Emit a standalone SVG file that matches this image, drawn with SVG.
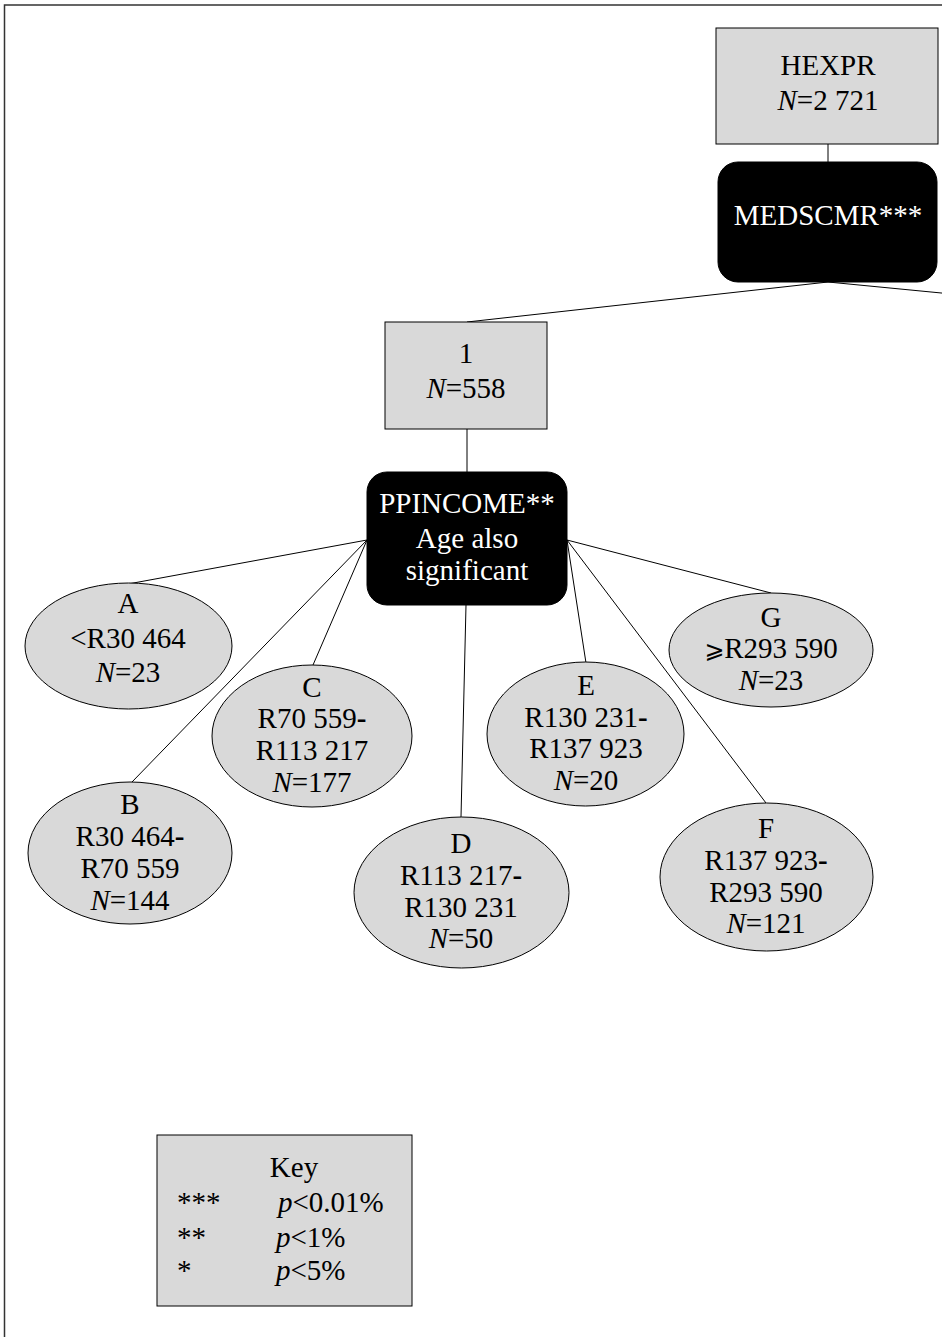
<svg xmlns="http://www.w3.org/2000/svg" width="942" height="1337" viewBox="0 0 942 1337">
<style>
text{font-family:"Liberation Serif","Times New Roman",serif;font-size:29px;text-anchor:middle;fill:#000}
.w{fill:#fff}
.i{font-style:italic}
.b{font-weight:bold}
.box{fill:#d9d9d9;stroke:#000;stroke-width:1}
.dark{fill:#000;stroke:#000}
.ell{fill:#d9d9d9;stroke:#000;stroke-width:1}
.c{stroke:#000;stroke-width:1;fill:none}
.l{text-anchor:start}
</style>
<rect width="942" height="1337" fill="#fff"/>
<path d="M4.5 1337 V5 H942" fill="none" stroke="#333" stroke-width="1.5"/>
<g id="connectors">
<line class="c" x1="828" y1="144" x2="828" y2="162"/>
<line class="c" x1="828" y1="282" x2="467" y2="322"/>
<line class="c" x1="828" y1="282" x2="962" y2="295"/>
<line class="c" x1="467" y1="429" x2="467" y2="472"/>
<line class="c" x1="367" y1="540" x2="128" y2="584"/>
<line class="c" x1="367" y1="540" x2="132" y2="782"/>
<line class="c" x1="367" y1="540" x2="313" y2="665"/>
<line class="c" x1="466" y1="605" x2="461" y2="817"/>
<line class="c" x1="567" y1="540" x2="586" y2="663"/>
<line class="c" x1="567" y1="540" x2="766" y2="803"/>
<line class="c" x1="567" y1="540" x2="771" y2="593"/>
</g>
<g id="hexpr">
<rect class="box" x="716" y="28" width="222" height="116"/>
<text x="828" y="75">HEXPR</text>
<text x="828" y="110"><tspan class="i">N</tspan>=2 721</text>
</g>
<g id="medscmr">
<rect class="dark" x="718" y="162" width="219" height="120" rx="20"/>
<text class="w" x="828" y="225">MEDSCMR***</text>
</g>
<g id="n1">
<rect class="box" x="385" y="322" width="162" height="107"/>
<text x="466" y="363">1</text>
<text x="466" y="398"><tspan class="i">N</tspan>=558</text>
</g>
<g id="ppincome">
<rect class="dark" x="367" y="472" width="200" height="133" rx="20"/>
<text class="w" x="467" y="513">PPINCOME**</text>
<text class="w" x="467" y="548">Age also</text>
<text class="w" x="467" y="580">significant</text>
</g>
<g id="nA">
<ellipse class="ell" cx="128.5" cy="646" rx="103.5" ry="63"/>
<text x="128" y="613">A</text>
<text x="128" y="648">&lt;R30 464</text>
<text x="128" y="682"><tspan class="i">N</tspan>=23</text>
</g>
<g id="nB">
<ellipse class="ell" cx="130" cy="853" rx="102" ry="71"/>
<text x="130" y="814">B</text>
<text x="130" y="846">R30 464<tspan class="b">-</tspan></text>
<text x="130" y="878">R70 559</text>
<text x="130" y="910"><tspan class="i">N</tspan>=144</text>
</g>
<g id="nC">
<ellipse class="ell" cx="312" cy="736" rx="100" ry="71"/>
<text x="312" y="697">C</text>
<text x="312" y="728">R70 559<tspan class="b">-</tspan></text>
<text x="312" y="760">R113 217</text>
<text x="312" y="792"><tspan class="i">N</tspan>=177</text>
</g>
<g id="nD">
<ellipse class="ell" cx="461.5" cy="892.5" rx="107.5" ry="75.5"/>
<text x="461" y="853">D</text>
<text x="461" y="885">R113 217<tspan class="b">-</tspan></text>
<text x="461" y="917">R130 231</text>
<text x="461" y="948"><tspan class="i">N</tspan>=50</text>
</g>
<g id="nE">
<ellipse class="ell" cx="585.5" cy="734" rx="98.5" ry="72"/>
<text x="586" y="695">E</text>
<text x="586" y="727">R130 231<tspan class="b">-</tspan></text>
<text x="586" y="758">R137 923</text>
<text x="586" y="790"><tspan class="i">N</tspan>=20</text>
</g>
<g id="nF">
<ellipse class="ell" cx="766.5" cy="877" rx="106.5" ry="74"/>
<text x="766" y="838">F</text>
<text x="766" y="870">R137 923<tspan class="b">-</tspan></text>
<text x="766" y="902">R293 590</text>
<text x="766" y="933"><tspan class="i">N</tspan>=121</text>
</g>
<g id="nG">
<ellipse class="ell" cx="771" cy="650" rx="102" ry="57"/>
<text x="771" y="627">G</text>
<text x="771" y="658"><tspan style="font-family:'DejaVu Serif','DejaVu Sans',serif;font-size:24px">⩾</tspan>R293 590</text>
<text x="771" y="690"><tspan class="i">N</tspan>=23</text>
</g>
<g id="key">
<rect class="box" x="157" y="1135" width="255" height="171"/>
<text x="294" y="1177">Key</text>
<text class="l" x="177" y="1212">***</text>
<text class="l" x="278" y="1212"><tspan class="i">p</tspan>&lt;0.01%</text>
<text class="l" x="177" y="1247">**</text>
<text class="l" x="276" y="1247"><tspan class="i">p</tspan>&lt;1%</text>
<text class="l" x="177" y="1280">*</text>
<text class="l" x="276" y="1280"><tspan class="i">p</tspan>&lt;5%</text>
</g>
</svg>
